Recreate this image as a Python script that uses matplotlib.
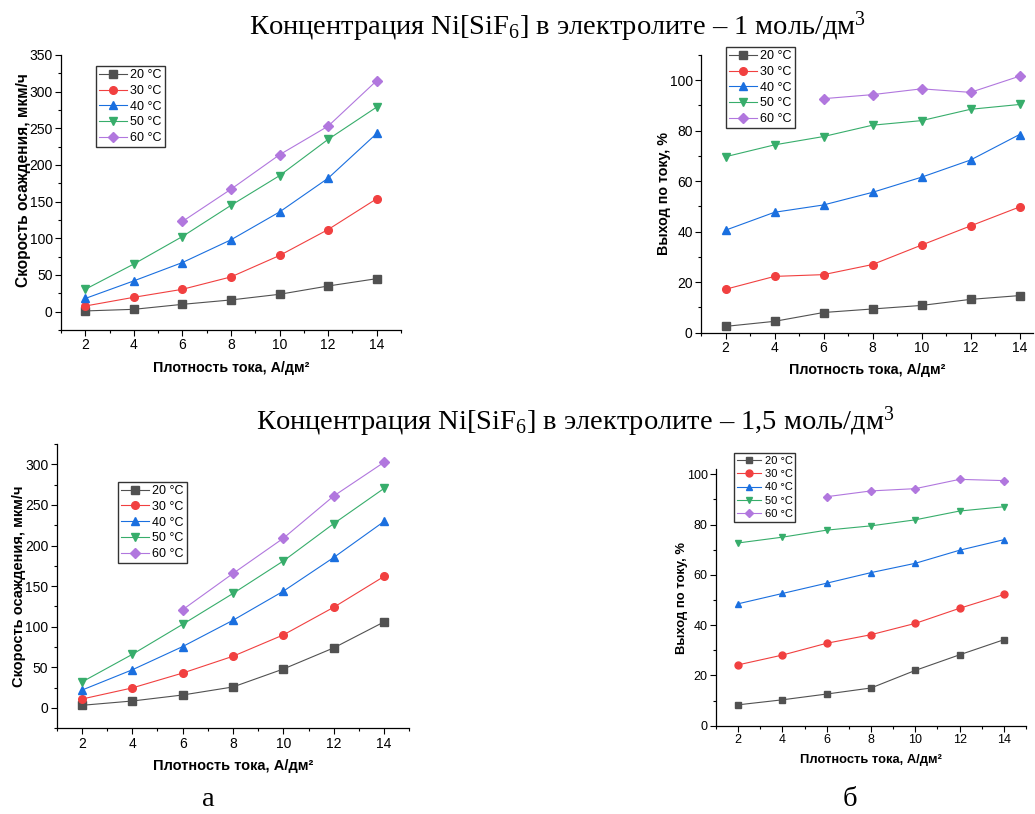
import numpy as np
import matplotlib
matplotlib.use("Agg")
import matplotlib.pyplot as plt
from matplotlib.ticker import MultipleLocator

plt.rcParams['font.family'] = ['Liberation Sans', 'DejaVu Sans']
plt.rcParams['mathtext.fontset'] = 'custom'
plt.rcParams['mathtext.rm'] = 'Liberation Serif'
plt.rcParams['mathtext.it'] = 'Liberation Serif:italic'

## DATA
current_density = [2, 4, 6, 8, 10, 12, 14]
temps = ['20 °C', '30 °C', '40 °C', '50 °C', '60 °C']

# 1 mol/dm3 - deposition rate, um/h
rate_1_20 = [1, 3.2, 10, 16, 23.7, 35, 45]
rate_1_30 = [7.7, 19.6, 30.5, 47.4, 76.6, 112, 154]
rate_1_40 = [18, 42, 67, 98, 136, 182, 243]
rate_1_50 = [30.5, 65, 102.5, 145, 185.5, 235, 279]
rate_1_60 = [None, None, 123, 167, 214, 253, 315]

# 1 mol/dm3 - current efficiency, %
eff_1_20 = [2.5, 4.5, 8, 9.4, 10.8, 13.2, 14.7]
eff_1_30 = [17.2, 22.3, 23, 27, 34.7, 42.3, 49.8]
eff_1_40 = [40.6, 47.7, 50.6, 55.6, 61.6, 68.4, 78.5]
eff_1_50 = [69.7, 74.4, 77.7, 82.2, 84, 88.5, 90.4]
eff_1_60 = [None, None, 92.7, 94.3, 96.6, 95.2, 101.6]

# 1.5 mol/dm3 - deposition rate, um/h
rate_15_20 = [3.3, 8.6, 16, 25.9, 48, 74, 106]
rate_15_30 = [11, 24.7, 43, 63.7, 90, 124, 162]
rate_15_40 = [22, 47, 75.6, 108, 143.8, 185.3, 229.7]
rate_15_50 = [32, 66, 103, 141, 181, 227, 270.4]
rate_15_60 = [None, None, 121, 165.6, 209, 261, 302.5]

# 1.5 mol/dm3 - current efficiency, %
eff_15_20 = [8.3, 10.3, 12.6, 15, 22, 28.2, 34.2]
eff_15_30 = [24.2, 28.1, 32.8, 36.2, 40.7, 46.7, 52.2]
eff_15_40 = [48.5, 52.6, 56.7, 60.9, 64.6, 69.8, 74]
eff_15_50 = [72.7, 75, 77.8, 79.5, 81.9, 85.4, 87.1]
eff_15_60 = [None, None, 91.1, 93.4, 94.3, 98, 97.5]

colors = ['#515151', '#F14040', '#1A6FDF', '#37AD6B', '#B177DE']
markers = ['s', 'o', '^', 'v', 'D']

W, H = 1035, 814
fig = plt.figure(figsize=(W / 100, H / 100), dpi=100, facecolor='w')


def px_axes(x0, y0, x1, y1):
    # axes rectangle from pixel coordinates (top-left origin)
    return fig.add_axes([x0 / W, (H - y1) / H, (x1 - x0) / W, (y1 - y0) / H])


def panel(rect, series, ylim, xlim, ymajor, ylabel, leg_xy, fs=10, xlfs=10.3, ylfs=10.3,
          lfs=9, ms=5.5, ylab_at=None):
    ax = px_axes(*rect)
    for i, ys in enumerate(series):
        x = [xx for xx, yy in zip(current_density, ys) if yy is not None]
        y = [yy for yy in ys if yy is not None]
        ax.plot(x, y, color=colors[i], marker=markers[i], markersize=ms if markers[i] != 'D' else ms * 0.9,
                linewidth=0.8, label=temps[i])
    ax.set_xlim(*xlim)
    ax.set_ylim(*ylim)
    ax.xaxis.set_major_locator(MultipleLocator(2))
    ax.xaxis.set_minor_locator(MultipleLocator(1))
    ax.yaxis.set_major_locator(MultipleLocator(ymajor))
    ax.yaxis.set_minor_locator(MultipleLocator(ymajor / 2))
    ax.spines['top'].set_visible(False)
    ax.spines['right'].set_visible(False)
    for s in ('left', 'bottom'):
        ax.spines[s].set_linewidth(0.9)
    ax.tick_params(which='major', direction='out', length=4, width=0.8, labelsize=fs, pad=2)
    ax.tick_params(which='minor', direction='out', length=2.5, width=0.8)
    ax.set_xlabel('Плотность тока, А/дм²', fontsize=xlfs, fontweight='bold', labelpad=6)
    ax.set_ylabel(ylabel, fontsize=ylfs, fontweight='bold', labelpad=-1)
    if ylab_at is not None:
        # label position in pixels
        ax.yaxis.set_label_coords((ylab_at[0] - rect[0]) / (rect[2] - rect[0]),
                                  (rect[3] - ylab_at[1]) / (rect[3] - rect[1]))
    leg = ax.legend(loc='upper left', bbox_to_anchor=(leg_xy[0] / W, 1 - leg_xy[1] / H),
                    bbox_transform=fig.transFigure, fontsize=lfs, frameon=True, fancybox=False,
                    edgecolor='black', handlelength=2.2, handletextpad=0.3, labelspacing=0.3,
                    borderpad=0.25, borderaxespad=0)
    leg.get_frame().set_linewidth(1.0)
    return ax


panel((61, 55, 401, 330), [rate_1_20, rate_1_30, rate_1_40, rate_1_50, rate_1_60],
      (-25, 350), (1, 15), 50, 'Скорость осаждения, мкм/ч', (96, 66), ylfs=11.2, ylab_at=(31, 180))
panel((701, 55, 1033, 332.7), [eff_1_20, eff_1_30, eff_1_40, eff_1_50, eff_1_60],
      (0, 110), (1, 14.55), 20, 'Выход по току, %', (726, 47))
panel((56.7, 444, 409.3, 728.3), [rate_15_20, rate_15_30, rate_15_40, rate_15_50, rate_15_60],
      (-25, 325), (1, 15), 50, 'Скорость осаждения, мкм/ч', (118, 482), xlfs=10.5, ylfs=10.5)
panel((716, 469.3, 1026, 725.7), [eff_15_20, eff_15_30, eff_15_40, eff_15_50, eff_15_60],
      (0, 102), (1, 15), 20, 'Выход по току, %', (734, 453), fs=9, xlfs=9.3, ylfs=9.4, lfs=8, ms=5)

serif = ['Liberation Serif', 'DejaVu Serif']
fig.text(558 / W, 1 - 27 / H, 'Концентрация Ni[SiF$_6$] в электролите – 1 моль/дм$^3$',
         ha='center', va='center', fontsize=20.5, family=serif)
fig.text(575 / W, 1 - 422 / H, 'Концентрация Ni[SiF$_6$] в электролите – 1,5 моль/дм$^3$',
         ha='center', va='center', fontsize=20.5, family=serif)
fig.text(208 / W, 1 - 800 / H, 'а', ha='center', va='center', fontsize=20.5, family=serif)
fig.text(850 / W, 1 - 800 / H, 'б', ha='center', va='center', fontsize=20.5, family=serif)

fig.savefig('out.png', dpi=100)
